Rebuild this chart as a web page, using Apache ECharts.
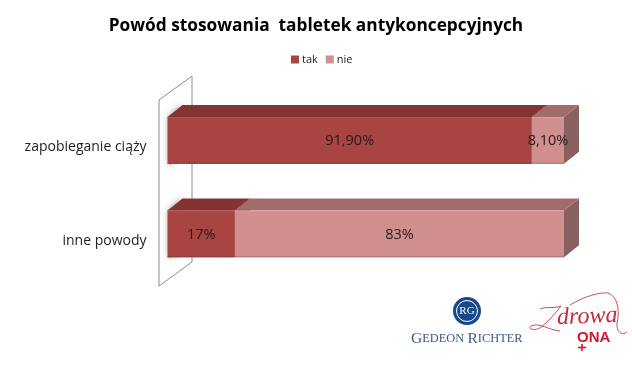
<!DOCTYPE html>
<html>
<head>
<meta charset="utf-8">
<style>
  html, body { margin: 0; padding: 0; background: #fff; }
  #chart { width: 632px; height: 374px; }
</style>
<script src="https://cdn.jsdelivr.net/npm/echarts@6/dist/echarts.min.js"></script>
</head>
<body>
<div id="chart"></div>
<script>
const categories = ["zapobieganie ciąży", "inne powody"];
const tak = [91.9, 17];
const nie = [8.1, 83];
const takLabels = ["91,90%", "17%"];
const nieLabels = ["8,10%", "83%"];

const font = '"Open Sans", "Noto Sans", sans-serif';
const depthX = 15;
const depthY = 12;

// 3d bar segment: front, top and right faces
function segment(colors, labels, withShadow) {
  return function (params, api) {
    const i = api.value(2);
    const start = api.coord([api.value(0), i]);
    const end = api.coord([api.value(1), i]);
    const h = api.size([0, 1])[1] * 0.5;
    const x0 = start[0], x1 = end[0];
    const y0 = start[1] - h / 2, y1 = start[1] + h / 2;
    const children = [];
    if (withShadow) {
      children.push({
        type: "polygon",
        shape: { points: [[x0 + 2, y0], [x0 + depthX, y0 - depthY], [x0 + depthX, y1 - depthY], [x0 + 2, y1 + 2]] },
        style: { fill: "#c4c4c4", shadowBlur: 7, shadowColor: "rgba(90,90,90,0.75)" }
      });
    }
    children.push({
      type: "polygon",
      shape: { points: [[x1, y0], [x1 + depthX, y0 - depthY], [x1 + depthX, y1 - depthY], [x1, y1]] },
      style: { fill: colors.side }
    });
    children.push({
      type: "polygon",
      shape: { points: [[x0, y0], [x0 + depthX, y0 - depthY], [x1 + depthX, y0 - depthY], [x1, y0]] },
      style: { fill: colors.top }
    });
    children.push({
      type: "rect",
      shape: { x: x0, y: y0, width: x1 - x0, height: y1 - y0 },
      style: { fill: colors.front }
    });
    children.push({
      type: "rect",
      shape: { x: x0, y: y0, width: x1 - x0, height: 1 },
      style: { fill: colors.light }
    });
    children.push({
      type: "rect",
      shape: { x: x0, y: y1 - 1, width: x1 - x0, height: 1 },
      style: { fill: colors.edge }
    });
    children.push({
      type: "text",
      z2: 10,
      style: {
        x: (x0 + x1) / 2, y: (y0 + y1) / 2 + 1,
        text: labels[i], align: "center", verticalAlign: "middle",
        fill: "#2a1a1a", font: "14.5px " + font
      }
    });
    return { type: "group", children: children };
  };
}

// flourish of the Zdrowa logo
function curve(x1, y1, cpx1, cpy1, cpx2, cpy2, x2, y2) {
  return {
    type: "bezierCurve", z: 1,
    shape: { x1: x1, y1: y1, cpx1: cpx1, cpy1: cpy1, cpx2: cpx2, cpy2: cpy2, x2: x2, y2: y2 },
    style: { fill: "none", stroke: "#c73a4c", lineWidth: 0.9 }
  };
}

const chart = echarts.init(document.getElementById("chart"), null, { renderer: "canvas" });

chart.setOption({
  animation: false,
  backgroundColor: "#fff",
  title: {
    text: "Powód stosowania  tabletek antykoncepcyjnych",
    left: "center",
    top: 13,
    textStyle: { fontFamily: font, fontSize: 17.3, fontWeight: "bold", color: "#000" }
  },
  legend: {
    top: 49,
    left: 286,
    itemWidth: 8,
    itemHeight: 8,
    itemGap: 8,
    textStyle: { fontFamily: font, fontSize: 11, color: "#222", padding: [0, 0, 0, -2] },
    data: [
      { name: "tak", icon: "rect", itemStyle: { color: "#a84442" } },
      { name: "nie", icon: "rect", itemStyle: { color: "#d08f8f" } }
    ]
  },
  grid: { left: 167.5, top: 93.5, width: 396.5, height: 187 },
  xAxis: { type: "value", min: 0, max: 100, show: false },
  yAxis: {
    type: "category",
    inverse: true,
    data: categories,
    axisLine: { show: false },
    axisTick: { show: false },
    axisLabel: { margin: 21, fontFamily: font, fontSize: 14, color: "#222", verticalAlign: "top" }
  },
  graphic: [
    // back wall
    { type: "polygon", z: 0, shape: { points: [[159, 100], [192, 76], [192, 262], [159, 286]] },
      style: { fill: "#fff", stroke: "#8c8c8c", lineWidth: 1 } },
    // Gedeon Richter logo
    { type: "circle", z: 1, shape: { cx: 467, cy: 311, r: 14 }, style: { fill: "#17498a" } },
    { type: "circle", z: 1, shape: { cx: 467, cy: 311, r: 10.5 }, style: { fill: "none", stroke: "#fff", lineWidth: 1 } },
    { type: "text", z: 1, style: { x: 467, y: 311, text: "RG", align: "center", verticalAlign: "middle",
      fill: "#fff", font: "11px 'Liberation Serif', serif" } },
    { type: "text", z: 1, style: { x: 411, y: 339, verticalAlign: "middle",
      text: "{b|G}{s|EDEON} {b|R}{s|ICHTER}",
      rich: {
        b: { fontFamily: "Liberation Serif", fontSize: 15.5, fill: "#3b5a85", color: "#3b5a85" },
        s: { fontFamily: "Liberation Serif", fontSize: 12.4, fill: "#3b5a85", color: "#3b5a85" }
      } } },
    // Zdrowa ONA logo
    curve(540, 309, 547, 306, 554, 309, 561, 306),
    curve(561, 306, 555, 314, 548, 322, 540, 328),
    curve(540, 328, 534, 331, 527, 329, 531, 326),
    curve(531, 326, 540, 322, 548, 330, 560, 331),
    curve(570, 305, 585, 296, 600, 292, 608, 293),
    curve(608, 293, 618, 296, 620, 312, 617, 323),
    curve(617, 323, 616, 332, 622, 336, 627, 332),
    { type: "text", z: 1, x: 557, y: 318, rotation: 0.04, style: { text: "drowa", verticalAlign: "middle",
      fill: "#c4293f", font: "italic 24px 'Liberation Serif', serif" } },
    { type: "text", z: 1, style: { x: 577, y: 338, text: "ONA", verticalAlign: "middle",
      fill: "#d1182f", font: "bold 15px 'Liberation Sans', sans-serif" } },
    { type: "line", z: 1, shape: { x1: 582, y1: 344, x2: 582, y2: 351 }, style: { stroke: "#d1182f", lineWidth: 1.6 } },
    { type: "line", z: 1, shape: { x1: 578, y1: 347.5, x2: 586, y2: 347.5 }, style: { stroke: "#d1182f", lineWidth: 1.6 } }
  ],
  series: [
    {
      name: "tak",
      type: "custom",
      z: 3,
      renderItem: segment({ front: "#a84442", top: "#833432", side: "#833432", light: "#b25452", edge: "#8e3a38" }, takLabels, true),
      encode: { x: [0, 1], y: 2 },
      data: tak.map((v, i) => [0, v, i])
    },
    {
      name: "nie",
      type: "custom",
      z: 4,
      renderItem: segment({ front: "#d08f8f", top: "#a26c6c", side: "#8a6060", light: "#dba0a0", edge: "#a97474" }, nieLabels, false),
      encode: { x: [0, 1], y: 2 },
      data: nie.map((v, i) => [tak[i], tak[i] + v, i])
    }
  ]
});
</script>
</body>
</html>
